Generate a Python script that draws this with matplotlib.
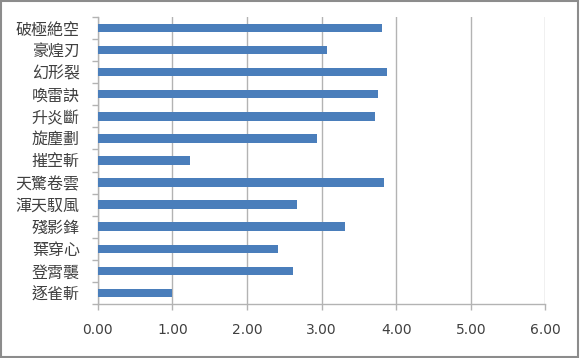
import matplotlib.pyplot as plt
import numpy as np
from matplotlib.patches import Rectangle

plt.rcParams['font.family'] = ['Noto Sans CJK TC', 'DejaVu Sans']

# skill names (top to bottom) and their values
skills = [
    "破極絶空", "豪煌刃", "幻形裂", "喚雷訣", "升炎斷", "旋塵劃", "摧空斬",
    "天驚卷雲", "渾天馭風", "殘影鋒", "葉穿心", "登霄襲", "逐雀斬",
]
values = [3.81, 3.07, 3.87, 3.76, 3.71, 2.94, 1.24,
          3.84, 2.67, 3.31, 2.42, 2.61, 1.00]
x_ticks = [0, 1, 2, 3, 4, 5, 6]

text_color = "#404040"
grid_color = "#b3b3b3"

fig = plt.figure(figsize=(5.8, 3.58), dpi=100)
ax = fig.add_axes([0.1685, 0.151, 0.772, 0.8015])

pos = np.arange(len(skills))
ax.barh(pos, values, height=0.38, color="#4a7ebb", zorder=3)

ax.set_ylim(len(skills) - 0.5, -0.5)
ax.set_xlim(0, 6)

ax.set_xticks(x_ticks)
ax.set_xticklabels([f"{t:.2f}" for t in x_ticks], fontsize=10,
                   color=text_color, family="DejaVu Sans")
ax.tick_params(axis="x", length=4, width=1, color=grid_color, pad=10)

# category labels between boundary ticks, Excel style
ax.set_yticks(pos)
ax.set_yticklabels(skills, fontsize=11.5, color=text_color)
ax.set_yticks(np.arange(len(skills) + 1) - 0.5, minor=True)
ax.tick_params(axis="y", which="major", length=0, pad=13)
ax.tick_params(axis="y", which="minor", length=4, width=1, color=grid_color)

ax.grid(axis="x", color=grid_color, linewidth=1, zorder=0)
for side in ["top", "right"]:
    ax.spines[side].set_visible(False)
for side in ["left", "bottom"]:
    ax.spines[side].set_color(grid_color)
    ax.spines[side].set_linewidth(1)

# chart frame
fig.patches.append(Rectangle((0.002, 0.003), 0.995, 0.993, transform=fig.transFigure,
                             fill=False, edgecolor="#8c8c8c", linewidth=1.5))

fig.savefig("out.png", dpi=100)
